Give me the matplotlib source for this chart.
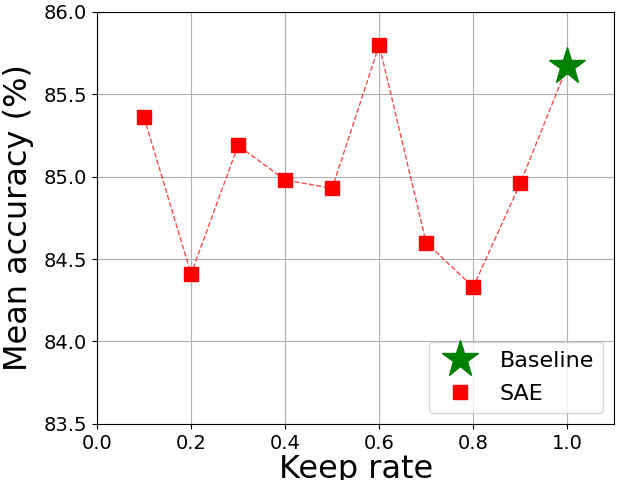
import matplotlib
matplotlib.use('Agg')
import matplotlib.pyplot as plt

keep_rates = [0.1, 0.2, 0.3, 0.4, 0.5, 0.6, 0.7, 0.8, 0.9]
sae_acc = [85.36, 84.41, 85.19, 84.98, 84.93, 85.80, 84.60, 84.33, 84.96]
baseline_rate = 1.0
baseline_acc = 85.67

fig, ax = plt.subplots(figsize=(6.18, 4.8), dpi=100)
fig.subplots_adjust(left=0.157, right=0.994, top=0.975, bottom=0.117)

# dashed line through all points, baseline included
ax.plot(keep_rates + [baseline_rate], sae_acc + [baseline_acc],
        'r--', linewidth=1, alpha=0.7, zorder=2)
ax.plot([baseline_rate], [baseline_acc], '*', color='green',
        markersize=28, linestyle='none', label='Baseline', zorder=3)
ax.plot(keep_rates, sae_acc, 's', color='red',
        markersize=10, linestyle='none', label='SAE', zorder=3)

ax.set_xlim(0, 1.1)
ax.set_ylim(83.5, 86.0)
ax.set_xticks([0.0, 0.2, 0.4, 0.6, 0.8, 1.0])
ax.set_yticks([83.5, 84.0, 84.5, 85.0, 85.5, 86.0])
ax.tick_params(labelsize=14)
ax.grid(True)

ax.set_xlabel('Keep rate', fontsize=23, labelpad=1)
ax.set_ylabel('Mean accuracy (%)', fontsize=23, labelpad=7)
ax.legend(loc='lower right', fontsize=16, labelspacing=0.6)

plt.savefig('out.png', dpi=100)
